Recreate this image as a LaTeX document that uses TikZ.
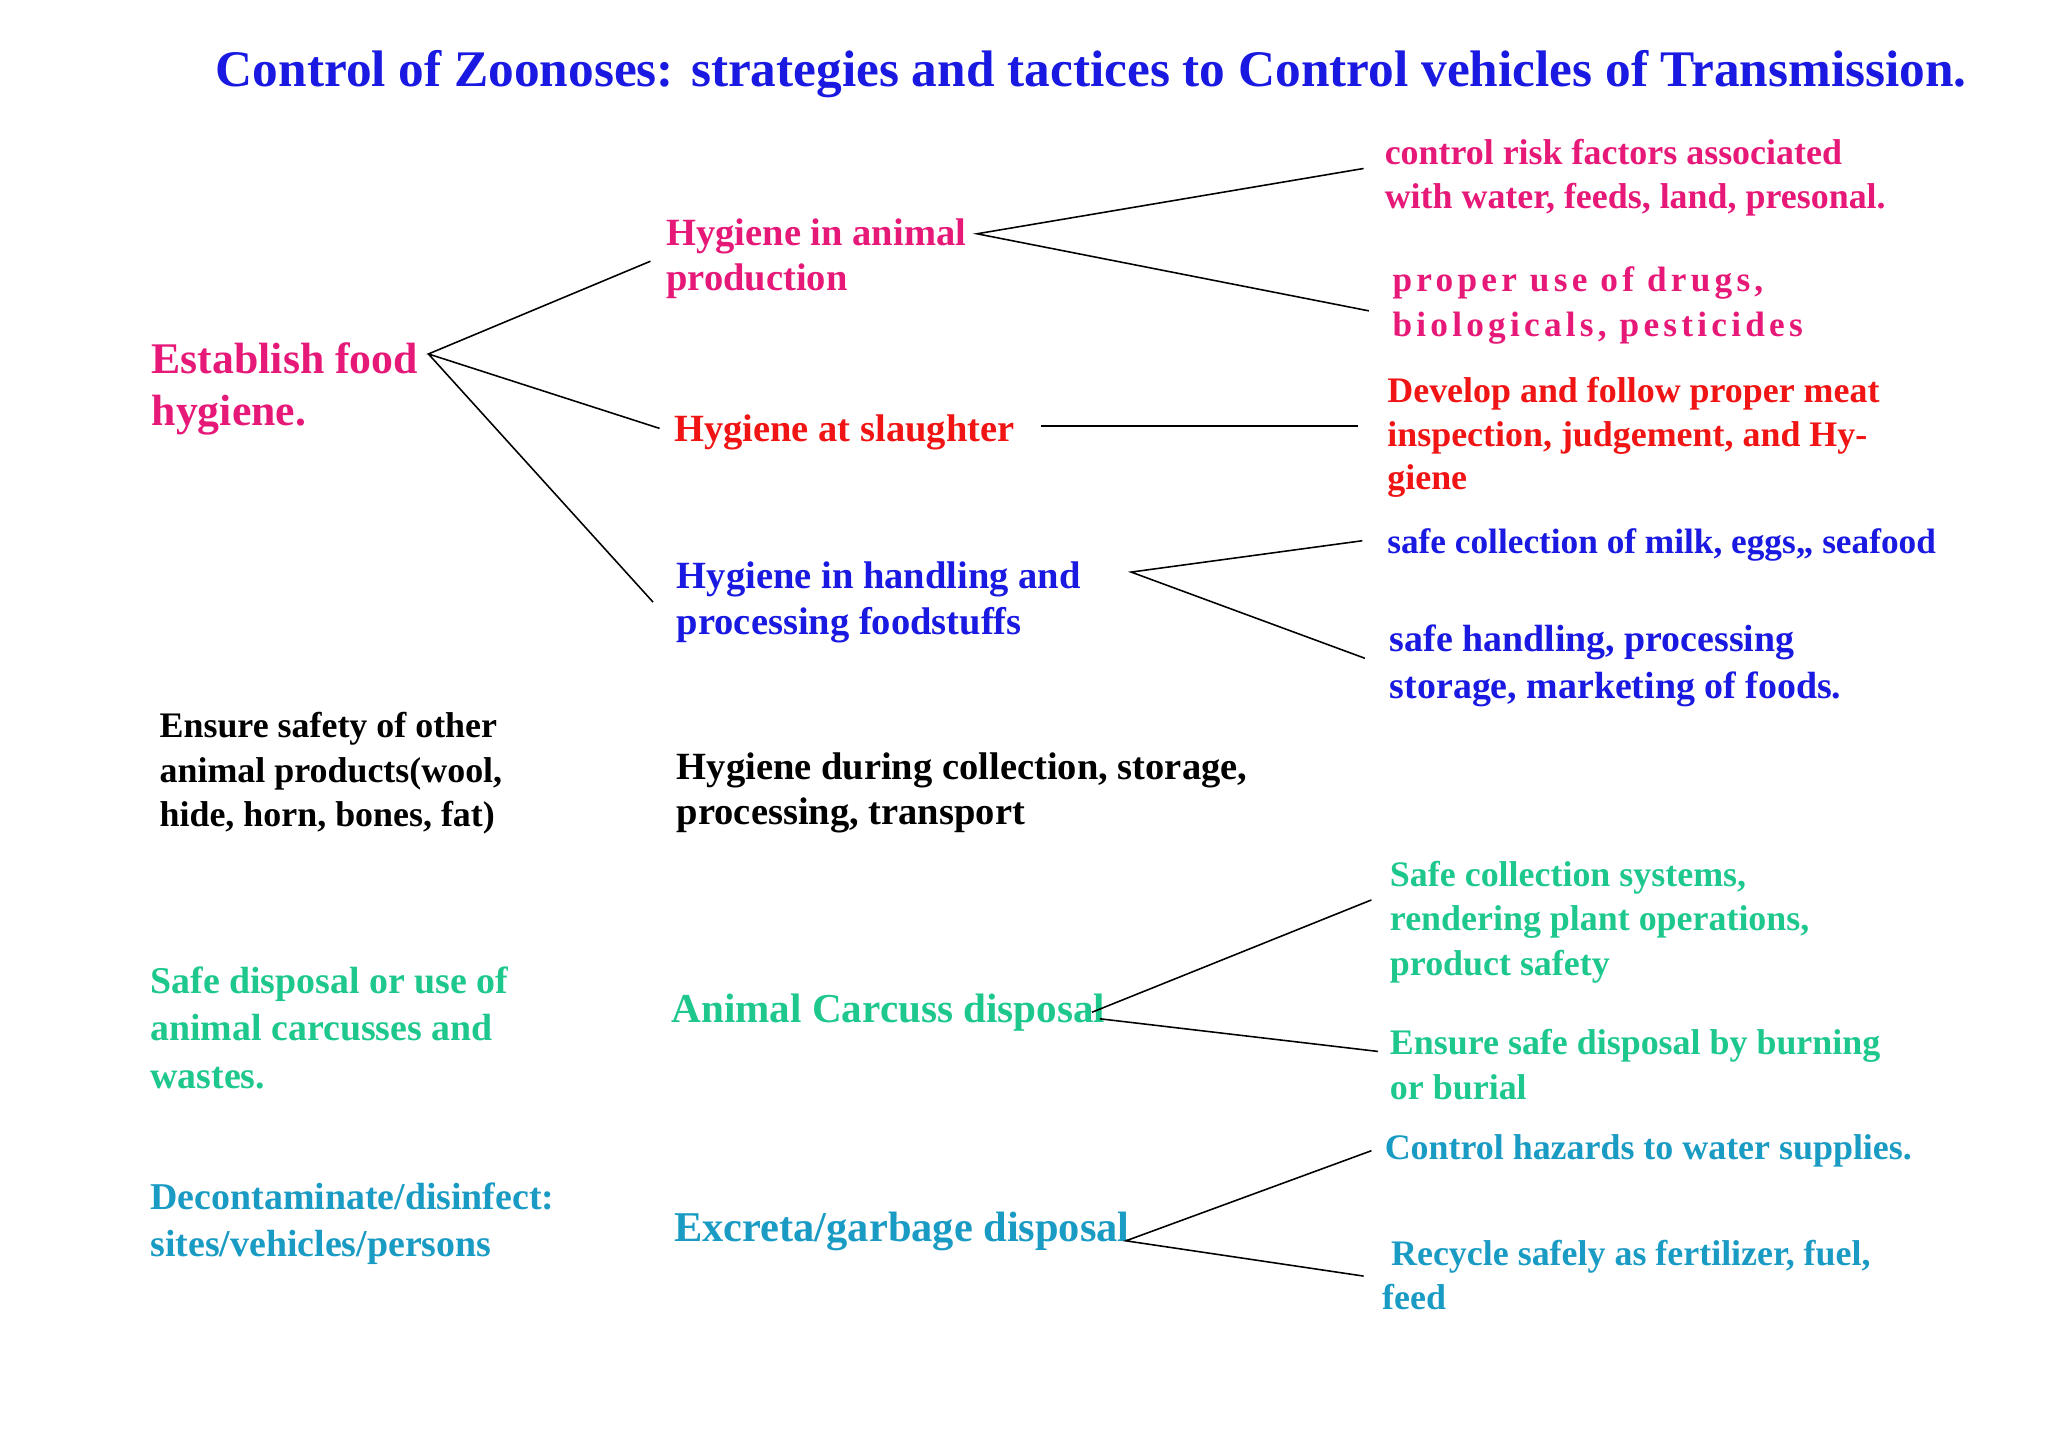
\documentclass[tikz,border=0pt]{standalone}
\usepackage{fontspec}
\setmainfont{Liberation Serif}
\begin{document}
\begin{tikzpicture}[x=1pt,y=-1pt,
 t/.style={anchor=west,align=left,font=\bfseries\fontsize{29.5}{35}\selectfont,inner sep=0pt},
 s/.style={anchor=west,align=left,font=\bfseries\fontsize{27.5}{34}\selectfont,inner sep=0pt},
 ln/.style={black,line width=1.2pt}]
\definecolor{pk}{RGB}{230,25,120}
\definecolor{rd}{RGB}{240,20,20}
\definecolor{bl}{RGB}{25,25,225}
\definecolor{gr}{RGB}{30,200,140}
\definecolor{cy}{RGB}{25,155,195}
\useasboundingbox (0,0) rectangle (1568,1107);
\node[anchor=west,inner sep=0,text=bl,font=\bfseries\fontsize{39.3}{40}\selectfont] (title) at (165,57) {Control of Zoonoses: strategies and tactices to Control vehicles of Transmission.};
% level 1
\node[t,text=pk,font=\bfseries\fontsize{33.5}{40}\selectfont] (a) at (116,298) {Establish food\\hygiene.};
\node[s] (b) at (122,592) {Ensure safety of other\\animal products(wool,\\hide, horn, bones, fat)};
\node[t,text=gr,font=\bfseries\fontsize{29}{36}\selectfont] (c) at (115,787) {Safe disposal or use of\\animal carcusses and\\wastes.};
\node[t,text=cy,font=\bfseries\fontsize{29}{36}\selectfont] (d) at (115,937) {Decontaminate/disinfect:\\sites/vehicles/persons};
% level 2
\node[t,text=pk] (a1) at (510,198) {Hygiene in animal\\production};
\node[t,text=rd] (a2) at (516,331) {Hygiene at slaughter};
\node[t,text=bl] (a3) at (518,461) {Hygiene in handling and\\processing foodstuffs};
\node[t] (b1) at (518,607) {Hygiene during collection, storage,\\processing, transport};
\node[t,text=gr,font=\bfseries\fontsize{31.5}{34}\selectfont] (c1) at (514,775) {Animal Carcuss disposal};
\node[t,text=cy,font=\bfseries\fontsize{32.5}{34}\selectfont] (d1) at (516,943) {Excreta/garbage disposal};
% level 3
\node[s,text=pk] (a11) at (1060,136) {control risk factors associated\\with water, feeds, land, presonal.};
\node[s,text=pk,font=\bfseries\fontsize{27}{34}\selectfont\addfontfeature{LetterSpace=12}] (a12) at (1066,234) {proper use of drugs,\\biologicals, pesticides};
\node[s,text=rd,font=\bfseries\fontsize{27.5}{33.5}\selectfont] (a21) at (1062,335) {Develop and follow proper meat\\inspection, judgement, and Hy-\\giene};
\node[s,text=bl,font=\bfseries\fontsize{27}{34}\selectfont] (a31) at (1062,417) {safe collection of milk, eggs,, seafood};
\node[s,text=bl,font=\bfseries\fontsize{29}{36}\selectfont] (a32) at (1064,510) {safe handling, processing\\storage, marketing of foods.};
\node[s,text=gr] (c11) at (1064,706) {Safe collection systems,\\rendering plant operations,\\product safety};
\node[s,text=gr] (c12) at (1064,815) {Ensure safe disposal by burning\\or burial};
\node[s,text=cy] (d11) at (1060,881) {Control hazards to water supplies.};
\node[s,text=cy] (d12) at (1058,976) {\ Recycle safely as fertilizer, fuel,\\feed};
% connector points
\coordinate (pa) at (328,271);
\coordinate (pa1) at (498,200); \coordinate (pa2) at (505,328); \coordinate (pa3) at (500,461);
\coordinate (q1) at (748,179); \coordinate (q11) at (1044,129); \coordinate (q12) at (1048,238);
\coordinate (r1) at (797,326); \coordinate (r2) at (1040,326);
\coordinate (s1) at (866,438); \coordinate (s11) at (1043,414); \coordinate (s12) at (1045,504);
\coordinate (u1) at (836,775); \coordinate (u11) at (1050,689); \coordinate (u12) at (1055,805); \coordinate (u0) at (842,780);
\coordinate (v1) at (862,950); \coordinate (v11) at (1050,881); \coordinate (v12) at (1044,977);
\draw[ln] (pa1) -- (pa) -- (pa2) (pa) -- (pa3);
\draw[ln] (q11) -- (q1) -- (q12);
\draw[ln] (r1) -- (r2);
\draw[ln] (s11) -- (s1) -- (s12);
\draw[ln] (u11) -- (u1) (u0) -- (u12);
\draw[ln] (v11) -- (v1) -- (v12);
\end{tikzpicture}
\end{document}
